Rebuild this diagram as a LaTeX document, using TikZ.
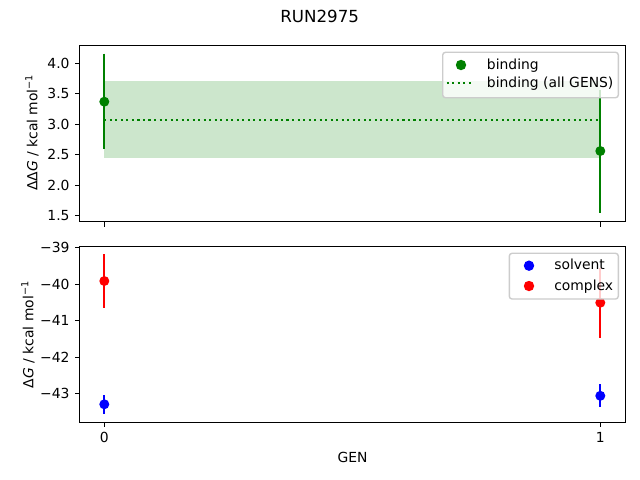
\documentclass[tikz,border=0pt]{standalone}
\usepackage{fontspec}
\setmainfont{DejaVu Sans}
\definecolor{mgreen}{HTML}{008000}
\definecolor{mshade}{HTML}{CCE6CC}
\definecolor{mred}{HTML}{FF0000}
\definecolor{mblue}{HTML}{0000FF}
\definecolor{legedge}{HTML}{CCCCCC}
\begin{document}
\begin{tikzpicture}[x=0.72pt,y=-0.72pt,
  axisframe/.style={draw=black,line width=0.8pt},
  tickmark/.style={draw=black,line width=0.8pt},
  ticklab/.style={inner sep=0pt,font=\fontsize{10}{12}\selectfont},
  ebar/.style={line width=1.5pt},
  dot/.style={circle,inner sep=0pt,minimum size=7.2pt},
  legdot/.style={circle,inner sep=0pt,minimum size=7.5pt},
  legbox/.style={draw=legedge,line width=1pt,fill=white,fill opacity=0.8,rounded corners=2pt},
  legtext/.style={inner sep=0pt,anchor=base west,font=\fontsize{10}{12}\selectfont},
  meanline/.style={line width=1.5pt,dash pattern=on 1.5pt off 2.475pt}
]
\useasboundingbox (0,0) rectangle (640,480);
\fill[white] (0,0) rectangle (640,480);

% ---------- title ----------
\node[inner sep=0pt,font=\fontsize{12}{14}\selectfont] (title) at (319.7,16.4) {RUN2975};

% ---------- top axes ----------
\fill[mshade] (104.3,81) rectangle (600.3,158.3);
\coordinate (t0top) at (104.3,53.5);
\coordinate (t0bot) at (104.3,149.0);
\coordinate (t1top) at (600.3,89.5);
\coordinate (t1bot) at (600.3,212.5);
\draw[mgreen,ebar] (t0top) -- (t0bot);
\draw[mgreen,ebar] (t1top) -- (t1bot);
\node[dot,fill=mgreen] (tp0) at (104.3,101.7) {};
\node[dot,fill=mgreen] (tp1) at (600.3,151.0) {};
\coordinate (meanA) at (104.3,120);
\coordinate (meanB) at (600.3,120);
\draw[mgreen,meanline] (meanA) -- (meanB);
\draw[axisframe] (79.5,45.5) rectangle (625.7,221.7);
% y ticks
\foreach \v/\y in {4.0/63.3,3.5/93.8,3.0/124.3,2.5/154.7,2.0/185.2,1.5/215.7}{
  \draw[tickmark] (79.5,\y) -- (74.64,\y);
  \node[ticklab,anchor=east] at (69.8,\y) {\v};
}
% x ticks (no labels)
\foreach \x in {104.3,600.3}{
  \draw[tickmark] (\x,221.7) -- (\x,226.56);
}
\node[inner sep=0pt,rotate=90,font=\fontsize{10}{12}\selectfont] (ylabtop) at (32,132.5) {ΔΔ\textit{G} / kcal mol\textsuperscript{−1}};

% legend top
\draw[legbox] (442.7,52.3) rectangle (618.3,97.7);
\node[legdot,fill=mgreen] (lg1) at (461,65) {};
\coordinate (lgA) at (446.7,83.3);
\coordinate (lgB) at (474.3,83.3);
\draw[mgreen,meanline] (lgA) -- (lgB);
\node[legtext] (lt1) at (486.7,69.3) {binding};
\node[legtext] (lt2) at (486.7,87.9) {binding (all GENS)};

% ---------- bottom axes ----------
\coordinate (c0top) at (104.3,254.3);
\coordinate (c0bot) at (104.3,307.7);
\coordinate (s0top) at (104.3,395.0);
\coordinate (s0bot) at (104.3,413.7);
\coordinate (c1top) at (600.3,267.7);
\coordinate (c1bot) at (600.3,337.7);
\coordinate (s1top) at (600.3,384.2);
\coordinate (s1bot) at (600.3,407.3);
\draw[mred,ebar] (c0top) -- (c0bot);
\draw[mblue,ebar] (s0top) -- (s0bot);
\draw[mred,ebar] (c1top) -- (c1bot);
\draw[mblue,ebar] (s1top) -- (s1bot);
\node[dot,fill=mred] (cp0) at (104.3,281.0) {};
\node[dot,fill=mblue] (sp0) at (104.3,404.3) {};
\node[dot,fill=mred] (cp1) at (600.3,302.7) {};
\node[dot,fill=mblue] (sp1) at (600.3,395.8) {};
\draw[axisframe] (79.5,246.7) rectangle (625.7,422.3);
\foreach \v/\y in {39/247.7,40/284.2,41/320.7,42/357.2,43/393.7}{
  \draw[tickmark] (79.5,\y) -- (74.64,\y);
  \node[ticklab,anchor=east] at (69.8,\y) {−\v};
}
\foreach \x/\l in {104.3/0,600.3/1}{
  \draw[tickmark] (\x,422.3) -- (\x,427.16);
  \node[ticklab,anchor=north] at (\x,432.0) {\l};
}
\node[inner sep=0pt,rotate=90,font=\fontsize{10}{12}\selectfont] (ylabbot) at (28,334.5) {Δ\textit{G} / kcal mol\textsuperscript{−1}};
\node[inner sep=0pt,font=\fontsize{10}{12}\selectfont] (xlab) at (352.5,457) {GEN};

% legend bottom
\draw[legbox] (509.3,253.3) rectangle (618.3,299.0);
\node[legdot,fill=mblue] (lg2) at (529,265.7) {};
\node[legdot,fill=mred] (lg3) at (529,286.0) {};
\node[legtext] (lt3) at (554,269.8) {solvent};
\node[legtext] (lt4) at (554,290.2) {complex};
\end{tikzpicture}
\end{document}
